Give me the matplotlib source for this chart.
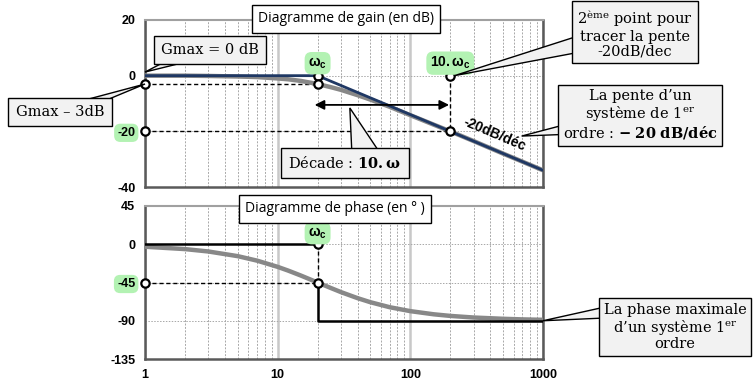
import matplotlib
matplotlib.use("Agg")
import matplotlib.pyplot as plt
from matplotlib.patches import Polygon
from matplotlib.transforms import IdentityTransform
from matplotlib.ticker import LogLocator, NullFormatter

plt.rcParams["mathtext.fontset"] = "custom"
plt.rcParams["mathtext.rm"] = "DejaVu Serif"
plt.rcParams["mathtext.it"] = "DejaVu Serif:italic"
plt.rcParams["mathtext.bf"] = "DejaVu Serif:bold"
plt.rcParams["mathtext.sf"] = "Liberation Sans:bold"

# pulsations (rad/s) et courbes réelles
w = [1, 2, 3, 5, 7, 10, 12, 15, 20, 25, 30, 40, 50, 70, 100, 150, 200, 300, 500, 700, 1000]
gain_reel = [0.0, 0.0, -0.1, -0.3, -0.5, -1.0, -1.3, -1.9, -3.0, -4.1, -5.1, -7.0, -8.6,
             -11.2, -14.2, -17.6, -20.0, -23.5, -28.0, -30.9, -34.0]
phase_reel = [-2.9, -5.7, -8.5, -14.0, -19.3, -26.6, -31.0, -36.9, -45.0, -51.3, -56.3,
              -63.4, -68.2, -74.1, -78.7, -82.4, -84.3, -86.2, -87.7, -88.4, -88.9]

# asymptotes
w_c = 20
w_dec = 200
w_gain_asym = [1, 20, 1000]
gain_asym = [0, 0, -34.0]
w_phase_haut = [1, 20]
phase_haut = [0, 0]
w_phase_bas = [20, 20, 1000]
phase_bas = [-45, -90, -90]

gain_ticks = [20, 0, -20, -40]
phase_ticks = [45, 0, -45, -90, -135]
x_ticks = [1, 10, 100, 1000]

VERT = "#b3f2b3"
BULLE = "#f2f2f2"
SANS = "Liberation Sans"
SERIF = "DejaVu Serif"
W, H = 753, 383

fig = plt.figure(figsize=(W / 100, H / 100), dpi=100)
ax_g = fig.add_axes([145 / W, 1 - 187 / H, 398 / W, 167 / H])
ax_p = fig.add_axes([145 / W, 1 - 359 / H, 398 / W, 153 / H])


def habiller(ax, yticks, xlabels):
    ax.set_xscale("log")
    ax.set_xlim(1, 1000)
    ax.set_ylim(yticks[-1], yticks[0])
    ax.set_yticks(yticks)
    ax.set_yticklabels([str(t) for t in yticks], fontfamily=SANS, fontweight="bold", fontsize=9)
    ax.set_xticks(x_ticks)
    ax.xaxis.set_minor_locator(LogLocator(base=10, subs=range(2, 10)))
    ax.xaxis.set_minor_formatter(NullFormatter())
    if xlabels:
        ax.set_xticklabels([str(t) for t in x_ticks], fontfamily=SANS, fontweight="bold", fontsize=9)
    else:
        ax.set_xticklabels([])
    ax.tick_params(which="both", length=0, pad=7)
    ax.grid(True, axis="x", which="major", color="#c8c8c8", lw=1.8, ls="-")
    ax.grid(True, axis="x", which="minor", color="#a8a8a8", lw=0.7, ls=(0, (2, 1.5)))
    ax.grid(True, axis="y", which="major", color="#a8a8a8", lw=0.7, ls=(0, (1.5, 1.5)))
    for cote in ("left", "bottom", "right"):
        ax.spines[cote].set_color("#5a5a5a")
        ax.spines[cote].set_linewidth(1.8)
    ax.spines["top"].set_color("#a0a0a0")
    ax.spines["top"].set_linewidth(1.5)
    ax.set_axisbelow(True)


habiller(ax_g, gain_ticks, False)
habiller(ax_p, phase_ticks, True)

# étiquettes surlignées en vert
for ax, val in ((ax_g, "-20"), (ax_p, "-45")):
    for lbl in ax.get_yticklabels():
        if lbl.get_text() == val:
            lbl.set_bbox(dict(boxstyle="round,pad=0.25,rounding_size=0.5", fc=VERT, ec="none"))

pointille = dict(color="black", lw=1.0, ls=(0, (3, 2)), zorder=3)
rond = dict(ls="none", marker="o", ms=6, mfc="white", mec="black", mew=1.6, zorder=6, clip_on=False)

# --- gain ---
ax_g.plot([1, w_c], [-3, -3], **pointille)
ax_g.plot([1, w_dec], [-20, -20], **pointille)
ax_g.plot([w_dec, w_dec], [0, -20], **pointille)
ax_g.plot(w, gain_reel, color="#888888", lw=3.2, zorder=4, solid_capstyle="butt")
ax_g.plot(w_gain_asym, gain_asym, color="#1f3864", lw=2.0, zorder=5)
ax_g.plot([w_c, w_c, w_dec, w_dec, 1, 1], [0, -3, 0, -20, -3, -20], **rond)

ax_g.annotate("", xy=(19, -10.5), xytext=(196, -10.5),
              arrowprops=dict(arrowstyle="<|-|>", color="black", lw=1.3,
                              mutation_scale=14, shrinkA=0, shrinkB=0), zorder=5)

ax_g.text(430, -21.0, "-20dB/déc", rotation=-23, ha="center", va="center",
          fontfamily=SANS, fontweight="bold", fontsize=10, zorder=7)

for xp, txt in ((w_c, r"$\mathsf{\omega_c}$"), (w_dec, r"$\mathsf{10{.}\omega_c}$")):
    ax_g.annotate(txt, xy=(xp, 0), xytext=(0, 9), textcoords="offset points",
                  ha="center", va="center", fontsize=10, zorder=8,
                  bbox=dict(boxstyle="round,pad=0.25,rounding_size=0.5", fc=VERT, ec="none"))

# --- phase ---
ax_p.plot([1, w_c], [-45, -45], **pointille)
ax_p.plot([w_c, w_c], [0, -45], **pointille)
ax_p.plot(w, phase_reel, color="#888888", lw=3.2, zorder=4)
ax_p.plot(w_phase_haut, phase_haut, color="black", lw=1.8, zorder=5)
ax_p.plot(w_phase_bas, phase_bas, color="black", lw=1.8, zorder=5)
ax_p.plot([1, w_c, w_c], [-45, 0, -45], **rond)
ax_p.annotate(r"$\mathsf{\omega_c}$", xy=(w_c, 0), xytext=(0, 8), textcoords="offset points",
              ha="center", va="center", fontsize=10, zorder=8,
              bbox=dict(boxstyle="round,pad=0.25,rounding_size=0.5", fc=VERT, ec="none"))

# titres encadrés
fig.text(346 / W, 1 - 19 / H, "Diagramme de gain (en dB)", ha="center", va="center",
         fontfamily="Open Sans", fontsize=10, zorder=10,
         bbox=dict(boxstyle="square,pad=0.45", fc="white", ec="black", lw=1.0))
fig.text(335 / W, 1 - 209 / H, "Diagramme de phase (en ° )", ha="center", va="center",
         fontfamily="Open Sans", fontsize=10, zorder=10,
         bbox=dict(boxstyle="square,pad=0.45", fc="white", ec="black", lw=1.0))


def bulle(ax, texte, pointe, centre, base, pad=0.35):
    """Bulle de commentaire : encadré gris et pointe triangulaire vers `pointe`."""
    fig.text(centre[0] / W, 1 - centre[1] / H, texte, ha="center", va="center", ma="center",
             fontsize=10.5, fontfamily=SERIF, linespacing=1.05, zorder=12,
             bbox=dict(boxstyle=f"square,pad={pad}", fc=BULLE, ec="black", lw=1.0))
    bout = ax.transData.transform(pointe)
    sommets = [(base[0][0], H - base[0][1]), (base[1][0], H - base[1][1]), tuple(bout)]
    fig.add_artist(Polygon(sommets, closed=True, transform=IdentityTransform(),
                           fc=BULLE, ec="black", lw=1.0, zorder=11))


bulle(ax_g, "Gmax = 0 dB", (1, 1.3), (210, 50), [(172, 58), (202, 58)], pad=0.5)
bulle(ax_g, "Gmax – 3dB", (1, -3), (60, 112), [(70, 104), (97, 104)], pad=0.5)
bulle(ax_g, "2$^{\\rm ème}$ point pour\ntracer la pente\n-20dB/dec", (215, 0),
      (635, 33), [(575, 37), (575, 53)])
bulle(ax_g, "La pente d’un\nsystème de 1$^{\\rm er}$\nordre : $\\mathbf{-\\ 20\\ dB/déc}$",
      (690, -21.7), (640, 115), [(575, 122), (575, 134)])
bulle(ax_g, "Décade : $\\mathbf{10{.}\\omega}$", (35, -11.6), (345, 163),
      [(352, 156), (382, 156)], pad=0.5)
bulle(ax_p, "La phase maximale\nd’un système 1$^{\\rm er}$\nordre", (1000, -90),
      (675, 327), [(605, 307), (605, 318)])

fig.savefig("out.png", dpi=100)
